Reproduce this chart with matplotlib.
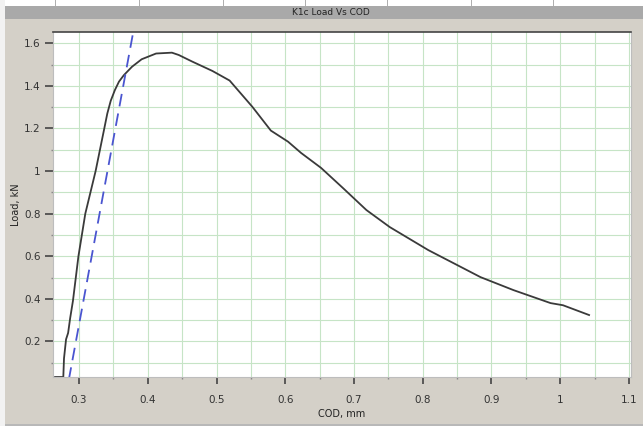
import matplotlib.pyplot as plt
from matplotlib.ticker import MultipleLocator, FormatStrFormatter
from matplotlib.patches import Rectangle

# load vs crack opening displacement
cod = [0.265, 0.277, 0.278, 0.281, 0.284, 0.287, 0.291, 0.299, 0.309, 0.324,
       0.336, 0.341, 0.346, 0.352, 0.358, 0.365, 0.377, 0.391, 0.412, 0.435,
       0.445, 0.464, 0.494, 0.519, 0.552, 0.579, 0.604, 0.623, 0.652,
       0.684, 0.718, 0.752, 0.808, 0.884, 0.932, 0.986, 1.004, 1.042]
load = [0.033, 0.033, 0.12, 0.21, 0.24, 0.31, 0.39, 0.60, 0.80, 1.00,
        1.19, 1.27, 1.33, 1.38, 1.42, 1.45, 1.49, 1.525, 1.552, 1.556,
        1.545, 1.515, 1.47, 1.425, 1.302, 1.19, 1.138, 1.085, 1.015,
        0.92, 0.817, 0.737, 0.629, 0.502, 0.441, 0.38, 0.37, 0.324]

# elastic slope line (dashed)
fit_x = [0.285, 0.378]
fit_y = [0.02, 1.64]

bg = "#d4d0c8"
fig = plt.figure(figsize=(6.43, 4.26), dpi=100, facecolor=bg)

# window chrome: white strip on top and left, grey title bar
fig.patches.append(Rectangle((0, 1 - 6 / 426), 1, 6 / 426, transform=fig.transFigure,
                             facecolor="white", edgecolor="none"))
for px in [55, 139, 223, 305, 387, 471, 553]:
    fig.patches.append(Rectangle((px / 643, 1 - 6 / 426), 1.2 / 643, 6 / 426,
                                 transform=fig.transFigure, facecolor="#b0b0b0",
                                 edgecolor="none"))
fig.patches.append(Rectangle((0, 0), 5 / 643, 1, transform=fig.transFigure,
                             facecolor="#f2f2f2", edgecolor="none"))
fig.patches.append(Rectangle((5 / 643, 1 - 19 / 426), 1, 13 / 426, transform=fig.transFigure,
                             facecolor="#a9a9a9", edgecolor="none"))
fig.patches.append(Rectangle((5 / 643, 0), 1, 2 / 426, transform=fig.transFigure,
                             facecolor="#b8b8b8", edgecolor="none"))
fig.text(0.515, 1 - 12.5 / 426, "K1c Load Vs COD", ha="center", va="center",
         fontsize=6.5, color="#222222")

ax = fig.add_axes([53 / 643, 1 - 377 / 426, (631 - 53) / 643, (377 - 32) / 426])
ax.set_facecolor("white")

ax.plot(cod, load, color="#3a3a3a", lw=1.3)
ax.plot(fit_x, fit_y, color="#4a55d0", lw=1.3, ls=(0, (7, 4)))

ax.set_xlim(0.262, 1.103)
ax.set_ylim(0.033, 1.653)

ax.xaxis.set_major_locator(MultipleLocator(0.1))
ax.xaxis.set_minor_locator(MultipleLocator(0.05))
ax.yaxis.set_major_locator(MultipleLocator(0.2))
ax.yaxis.set_minor_locator(MultipleLocator(0.1))
ax.xaxis.set_major_formatter(FormatStrFormatter("%g"))
ax.yaxis.set_major_formatter(FormatStrFormatter("%g"))

ax.grid(True, which="both", color="#c6e4c6", lw=0.8)
ax.set_axisbelow(True)

for s in ["left", "right", "bottom"]:
    ax.spines[s].set_color("#bdbdbd")
    ax.spines[s].set_linewidth(0.8)
ax.spines["top"].set_color("#444444")
ax.spines["top"].set_linewidth(1.2)

ax.tick_params(axis="x", which="major", direction="out", length=5, width=1.2,
               pad=8, colors="#444444", labelsize=7.5)
ax.tick_params(axis="x", which="minor", direction="out", length=1.5, width=1,
               colors="#888888")
ax.tick_params(axis="y", which="major", direction="out", length=6, width=1.2,
               pad=3, colors="#444444", labelsize=7.5)
ax.tick_params(axis="y", which="minor", direction="out", length=1.5, width=1,
               colors="#888888")
for lab in ax.get_xticklabels() + ax.get_yticklabels():
    lab.set_color("#333333")

ax.set_xlabel("COD, mm", fontsize=7, color="#222222", labelpad=3)
ax.set_ylabel("Load, kN", fontsize=7, color="#222222", labelpad=2)

fig.savefig("out.png", dpi=100, facecolor=bg)
